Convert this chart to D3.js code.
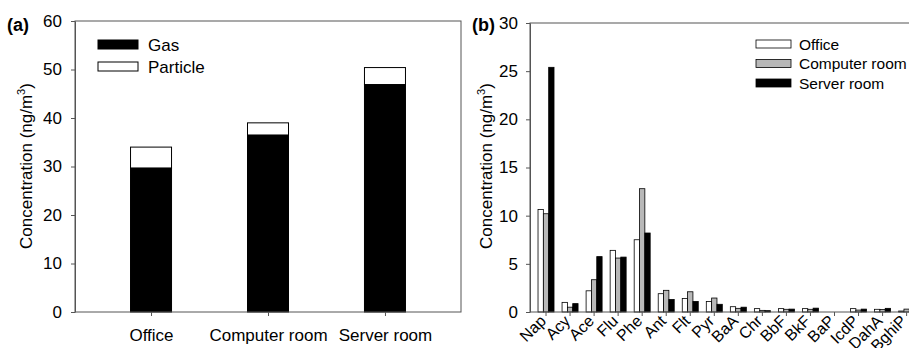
<!DOCTYPE html>
<html>
<head>
<meta charset="utf-8">
<script src="https://cdn.jsdelivr.net/npm/d3@7"></script>
<style>
  html, body { margin: 0; padding: 0; background: #fff; }
  svg { display: block; font-family: "Liberation Sans", Arial, sans-serif; }
</style>
</head>
<body>
<svg id="chart" width="909" height="348"></svg>
<script>
// ---------- Data ----------
const sites = ["Office", "Computer room", "Server room"];
const gasValues = [29.7, 36.5, 46.9];
const particleValues = [4.3, 2.5, 3.5];
const phaseNames = ["Gas", "Particle"];
const yTicksA = [0, 10, 20, 30, 40, 50, 60];

const pahs = ["Nap", "Acy", "Ace", "Flu", "Phe", "Ant", "Flt", "Pyr", "BaA", "Chr", "BbF", "BkF", "BaP", "IcdP", "DahA", "BghiP"];
const officeValues   = [10.65, 1.0, 2.2, 6.4, 7.5, 1.9, 1.4, 1.1, 0.55, 0.35, 0.35, 0.35, 0, 0.35, 0.28, 0.1];
const computerValues = [10.2, 0.5, 3.35, 5.6, 12.8, 2.25, 2.1, 1.45, 0.38, 0.17, 0.28, 0.28, 0, 0.2, 0.25, 0.3];
const serverValues   = [25.4, 0.87, 5.75, 5.7, 8.2, 1.3, 1.1, 0.8, 0.5, 0.14, 0.3, 0.4, 0, 0.3, 0.38, 0.08];
const roomNames = ["Office", "Computer room", "Server room"];
const yTicksB = [0, 5, 10, 15, 20, 25, 30];

const svg = d3.select("#chart");
const axisColor = "#555";

// ---------- Panel (a) ----------
const A = { left: 75, right: 461, top: 21, bottom: 312 };
const yA = d3.scaleLinear().domain([0, 60]).range([A.bottom, A.top]);
const xA = d3.scaleLinear().domain([-0.65, 2.65]).range([A.left, A.right]);
const barWA = 41;

const gA = svg.append("g");
const stackData = sites.map((s, i) => ({ site: s, i, Gas: gasValues[i], Particle: particleValues[i] }));
const stacked = d3.stack().keys(phaseNames)(stackData);
const fillA = { Gas: "#000", Particle: "#fff" };

stacked.forEach(layer => {
  gA.selectAll(null).data(layer).enter().append("rect")
    .attr("x", d => xA(d.data.i) - barWA / 2)
    .attr("width", barWA)
    .attr("y", d => yA(d[1]))
    .attr("height", d => yA(d[0]) - yA(d[1]))
    .attr("fill", fillA[layer.key])
    .attr("stroke", "#000")
    .attr("stroke-width", 1);
});

// frame
gA.append("rect").attr("x", A.left).attr("y", A.top)
  .attr("width", A.right - A.left).attr("height", A.bottom - A.top)
  .attr("fill", "none").attr("stroke", axisColor).attr("stroke-width", 1);

const yAxisA = d3.axisLeft(yA).tickValues(yTicksA).tickSize(4).tickSizeOuter(0).tickPadding(9);
gA.append("g").attr("transform", `translate(${A.left},0)`).call(yAxisA)
  .call(g => g.select(".domain").attr("stroke", axisColor))
  .call(g => g.selectAll(".tick line").attr("stroke", axisColor))
  .call(g => g.selectAll("text").attr("font-size", 17).attr("fill", "#000").attr("font-family", null));

const xAxisA = d3.axisBottom(xA).tickValues([0, 1, 2]).tickFormat(i => sites[i]).tickSize(4).tickSizeOuter(0).tickPadding(13);
gA.append("g").attr("transform", `translate(0,${A.bottom})`).call(xAxisA)
  .call(g => g.select(".domain").remove())
  .call(g => g.selectAll(".tick line").attr("stroke", axisColor))
  .call(g => g.selectAll("text").attr("font-size", 17).attr("fill", "#000").attr("font-family", null));

// legend a
const legA = gA.append("g");
phaseNames.forEach((k, j) => {
  const yy = 40 + j * 22;
  legA.append("rect").attr("x", 98).attr("y", yy).attr("width", 40).attr("height", 9)
    .attr("fill", fillA[k]).attr("stroke", "#000");
  legA.append("text").attr("x", 148).attr("y", yy + 11).attr("font-size", 17).text(k);
});

// y label a
const yLabA = gA.append("text").attr("transform", "translate(32,166) rotate(-90)")
  .attr("text-anchor", "middle").attr("font-size", 17);
yLabA.append("tspan").text("Concentration (ng/m");
yLabA.append("tspan").attr("font-size", 11).attr("dy", -7).text("3");
yLabA.append("tspan").attr("dy", 7).text(")");

gA.append("text").attr("x", 7).attr("y", 31).attr("font-size", 18).attr("font-weight", "bold").text("(a)");

// ---------- Panel (b) ----------
const B = { left: 530, right: 930, top: 23, bottom: 312 };
const yB = d3.scaleLinear().domain([0, 30]).range([B.bottom, B.top]);
const stepB = 24.04;
const xB = d3.scaleBand().domain(pahs).range([534, 534 + pahs.length * stepB]).padding(0);
const xSub = d3.scaleBand().domain(roomNames).range([-8, 8]).padding(0);
const fillB = { "Office": "#fff", "Computer room": "#b8b8b8", "Server room": "#000" };
const seriesB = [officeValues, computerValues, serverValues];

const gB = svg.append("g");
const barsB = [];
pahs.forEach((p, i) => {
  roomNames.forEach((r, j) => barsB.push({ p, r, v: seriesB[j][i] }));
});
gB.selectAll("rect.bar").data(barsB.filter(d => d.v > 0)).enter().append("rect")
  .attr("class", "bar")
  .attr("x", d => xB(d.p) + xB.bandwidth() / 2 + xSub(d.r))
  .attr("width", xSub.bandwidth())
  .attr("y", d => yB(d.v))
  .attr("height", d => yB(0) - yB(d.v))
  .attr("fill", d => fillB[d.r])
  .attr("stroke", "#000").attr("stroke-width", 0.8);

gB.append("rect").attr("x", B.left).attr("y", B.top)
  .attr("width", B.right - B.left).attr("height", B.bottom - B.top)
  .attr("fill", "none").attr("stroke", axisColor).attr("stroke-width", 1);

const yAxisB = d3.axisLeft(yB).tickValues(yTicksB).tickSize(4).tickSizeOuter(0).tickPadding(8);
gB.append("g").attr("transform", `translate(${B.left},0)`).call(yAxisB)
  .call(g => g.select(".domain").attr("stroke", axisColor))
  .call(g => g.selectAll(".tick line").attr("stroke", axisColor))
  .call(g => g.selectAll("text").attr("font-size", 17).attr("fill", "#000").attr("font-family", null));

const xAxisB = d3.axisBottom(xB).tickSize(4).tickSizeOuter(0).tickFormat("");
gB.append("g").attr("transform", `translate(0,${B.bottom})`).call(xAxisB)
  .call(g => g.select(".domain").remove())
  .call(g => g.selectAll(".tick line").attr("stroke", axisColor));

gB.selectAll("text.cat").data(pahs).enter().append("text")
  .attr("class", "cat")
  .attr("transform", d => `translate(${xB(d) + xB.bandwidth() / 2 + 1},${322}) rotate(-45)`)
  .attr("text-anchor", "end").attr("font-size", 16).text(d => d);

// legend b
roomNames.forEach((r, j) => {
  const yy = 40 + j * 19.5;
  gB.append("rect").attr("x", 756).attr("y", yy).attr("width", 35).attr("height", 8)
    .attr("fill", fillB[r]).attr("stroke", "#000").attr("stroke-width", 0.8);
  gB.append("text").attr("x", 799).attr("y", yy + 9.5).attr("font-size", 15.5).text(r);
});

const yLabB = gB.append("text").attr("transform", "translate(492,166) rotate(-90)")
  .attr("text-anchor", "middle").attr("font-size", 17);
yLabB.append("tspan").text("Concentration (ng/m");
yLabB.append("tspan").attr("font-size", 11).attr("dy", -7).text("3");
yLabB.append("tspan").attr("dy", 7).text(")");

gB.append("text").attr("x", 472).attr("y", 31).attr("font-size", 18).attr("font-weight", "bold").text("(b)");
</script>
</body>
</html>
